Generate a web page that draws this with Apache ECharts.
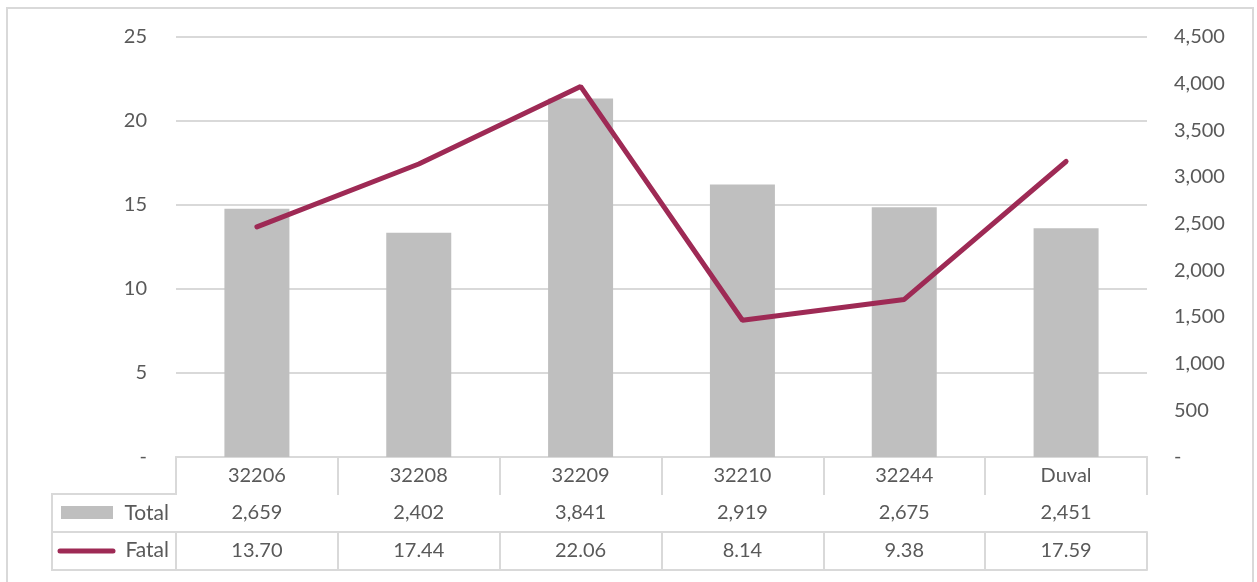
<!DOCTYPE html>
<html>
<head>
<meta charset="utf-8">
<script src="https://cdn.jsdelivr.net/npm/echarts@6/dist/echarts.min.js"></script>
<style>
  html, body { margin: 0; padding: 0; background: #fff; }
  #chart { width: 1257px; height: 582px; }
</style>
</head>
<body>
<div id="chart"></div>
<script>
// data
const categories = ['32206', '32208', '32209', '32210', '32244', 'Duval'];
const totalValues = [2659, 2402, 3841, 2919, 2675, 2451];
const fatalValues = [13.70, 17.44, 22.06, 8.14, 9.38, 17.59];

const FONT = 'Lato, "Open Sans", sans-serif';
const FS = 20;
const TEXT = '#595959';
const LINE = '#D9D9D9';
const BAR = '#BFBFBF';
const RED = '#9E2A55';

const fmtComma = v => v.toLocaleString('en-US');

const tableAxis = (data, offset, showLabel) => ({
    type: 'category',
    position: 'bottom',
    offset: offset,
    data: data,
    axisLine: { show: true, lineStyle: { color: LINE, width: 2 } },
    axisTick: { show: showLabel, interval: 0, length: offset === 0 ? 37 : 38, lineStyle: { color: LINE, width: 2 } },
    axisLabel: { show: showLabel, interval: 0, margin: 9, fontSize: FS, color: TEXT, fontFamily: FONT },
    splitLine: { show: false }
});

const myChart = echarts.init(document.getElementById('chart'));
const option = {
    animation: false,
    backgroundColor: '#fff',
    grid: { left: 176, right: 110, top: 37, bottom: 125 },
    xAxis: [
        tableAxis(categories, 0, true),
        tableAxis(totalValues.map(fmtComma), 37, true),
        tableAxis(fatalValues.map(v => v.toFixed(2)), 75, true),
        tableAxis(categories, 113, false)
    ],
    yAxis: [
        {
            type: 'value',
            min: 0, max: 25, interval: 5,
            axisLine: { show: false },
            axisTick: { show: false },
            axisLabel: {
                margin: 29, fontSize: FS, color: TEXT, fontFamily: FONT,
                formatter: v => v === 0 ? '-' : v
            },
            splitLine: { lineStyle: { color: LINE, width: 2 } }
        },
        {
            type: 'value',
            min: 0, max: 4500, interval: 500,
            axisLine: { show: false },
            axisTick: { show: false },
            axisLabel: {
                margin: 27, fontSize: FS, color: TEXT, fontFamily: FONT,
                formatter: v => v === 0 ? '-' : fmtComma(v)
            },
            splitLine: { show: false }
        }
    ],
    series: [
        {
            name: 'Total',
            type: 'bar',
            xAxisIndex: 0,
            yAxisIndex: 1,
            barWidth: 65,
            itemStyle: { color: BAR },
            data: totalValues
        },
        {
            name: 'Fatal',
            type: 'line',
            xAxisIndex: 0,
            yAxisIndex: 0,
            showSymbol: false,
            lineStyle: { color: RED, width: 5, cap: 'round' },
            data: fatalValues
        }
    ],
    graphic: [
        // outer frame
        { type: 'rect', shape: { x: 7, y: 8, width: 1246, height: 600 }, style: { fill: 'none', stroke: LINE, lineWidth: 2 }, silent: true },
        // legend column of the data table
        { type: 'polyline', shape: { points: [[177, 494], [52, 494], [52, 570], [177, 570]] }, style: { fill: 'none', stroke: LINE, lineWidth: 2 } },
        { type: 'line', shape: { x1: 52, y1: 532, x2: 177, y2: 532 }, style: { stroke: LINE, lineWidth: 2 } },
        { type: 'rect', shape: { x: 61, y: 506, width: 52, height: 13 }, style: { fill: BAR } },
        { type: 'text', x: 169, y: 513, style: { text: 'Total', align: 'right', verticalAlign: 'middle', fontSize: FS + 1, fill: TEXT, fontFamily: FONT } },
        { type: 'line', shape: { x1: 60, y1: 551, x2: 113, y2: 551 }, style: { stroke: RED, lineWidth: 5, lineCap: 'round' } },
        { type: 'text', x: 169, y: 550, style: { text: 'Fatal', align: 'right', verticalAlign: 'middle', fontSize: FS + 1, fill: TEXT, fontFamily: FONT } }
    ]
};
myChart.setOption(option);
window.addEventListener('resize', () => myChart.resize());
</script>
</body>
</html>
